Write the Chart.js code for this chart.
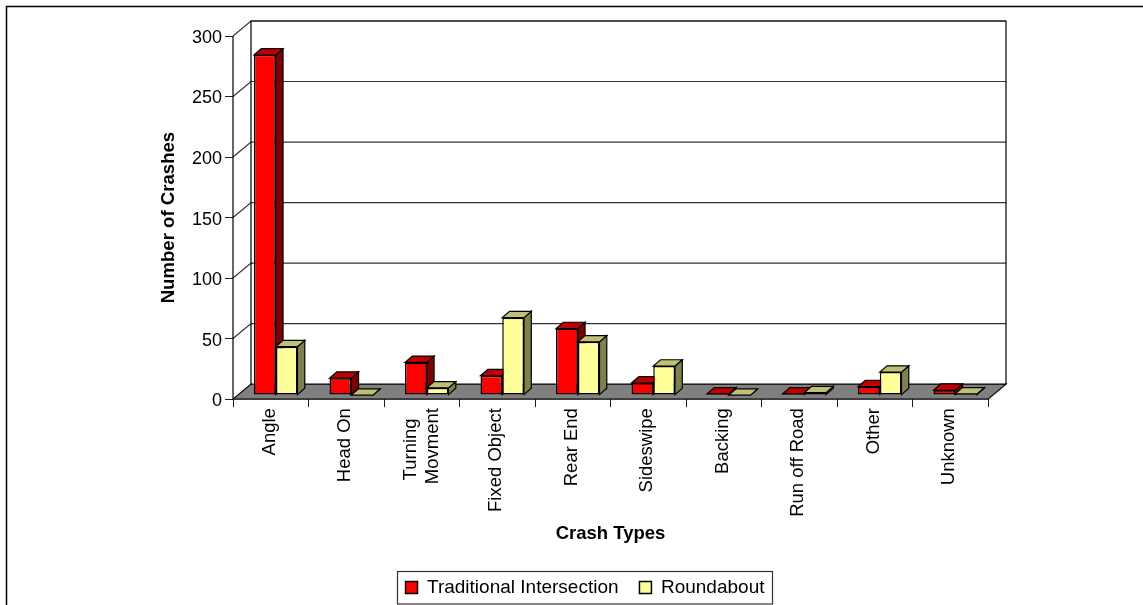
<!DOCTYPE html>
<html>
<head>
<meta charset="utf-8">
<title>Crash Types</title>
<script src="https://cdn.jsdelivr.net/npm/chart.js@4"></script>
<style>
  html, body { margin: 0; padding: 0; background: #fff; }
  canvas { display: block; }
</style>
</head>
<body>
<canvas id="container" width="1143" height="605"></canvas>
<script>
let categories = ['Angle', 'Head On', ['Turning  ', 'Movment'], 'Fixed Object', 'Rear End', 'Sideswipe', 'Backing', 'Run off Road', 'Other', 'Unknown'];
let traditional = [281, 14, 27, 16, 55, 10, 1, 1, 7, 4];
let roundabout = [40, 0, 6, 64, 44, 24, 0, 2, 19, 1];
let yTicks = [0, 50, 100, 150, 200, 250, 300];

let fontName = '"Liberation Sans", Arial, sans-serif';
let wallDepth = { x: 18, y: -15 };
let barDepth = { x: 7.3, y: -6.3 };
let barShift = { x: 5, y: -4 };
let shades = [
  { front: '#ff0000', top: '#c00000', side: '#7f0000' },
  { front: '#ffff99', top: '#c0c073', side: '#80804d' }
];

function poly(ctx, pts, fill) {
  ctx.beginPath();
  pts.forEach((p, i) => i ? ctx.lineTo(p[0], p[1]) : ctx.moveTo(p[0], p[1]));
  ctx.closePath();
  if (fill) { ctx.fillStyle = fill; ctx.fill(); }
  ctx.stroke();
}

let box3d = {
  id: 'box3d',
  afterLayout(chart) {
    // legend is centred under the whole picture, not under the plot
    chart.legend.left += 78;
    chart.legend.right += 78;
    chart.legend.top += 3;
    chart.legend.bottom += 3;
    // two line labels have to sit centred on their tick
    chart.scales.x.getLabelItems().forEach(item => {
      if (Array.isArray(item.label)) item.options.translation[0] -= 10;
    });
    // numbers sit a bit high against their tick marks
    chart.scales.y.getLabelItems().forEach(item => {
      item.options.translation[1] += 2;
    });
  },
  beforeDraw(chart) {
    // outer frame of the original picture, only top and left show
    let ctx = chart.ctx;
    ctx.save();
    ctx.strokeStyle = '#000';
    ctx.lineWidth = 1.5;
    ctx.beginPath();
    ctx.moveTo(6.5, 605);
    ctx.lineTo(6.5, 6.5);
    ctx.lineTo(1143, 6.5);
    ctx.stroke();
    ctx.restore();
  },
  beforeDatasetsDraw(chart) {
    let ctx = chart.ctx;
    let a = chart.chartArea;
    let yScale = chart.scales.y;
    let dx = wallDepth.x, dy = wallDepth.y;
    let y0 = yScale.getPixelForValue(0), yMax = yScale.getPixelForValue(yTicks[yTicks.length - 1]);

    ctx.save();
    ctx.lineWidth = 1.2;

    // gridlines on the back wall and the slanted bit on the left wall
    ctx.strokeStyle = '#333';
    yTicks.forEach(v => {
      if (v == 0) return;
      let y = yScale.getPixelForValue(v);
      ctx.beginPath();
      ctx.moveTo(a.left, y);
      ctx.lineTo(a.left + dx, y + dy);
      ctx.lineTo(a.right + dx, y + dy);
      ctx.stroke();
    });

    // walls
    ctx.strokeStyle = '#000';
    ctx.beginPath();
    ctx.moveTo(a.left + dx, y0 + dy);
    ctx.lineTo(a.left + dx, yMax + dy);
    ctx.lineTo(a.right + dx, yMax + dy);
    ctx.lineTo(a.right + dx, y0 + dy);
    ctx.stroke();
    ctx.beginPath();
    ctx.moveTo(a.left, y0);
    ctx.lineTo(a.left, yMax);
    ctx.stroke();

    // floor
    poly(ctx, [[a.left, y0], [a.right, y0], [a.right + dx, y0 + dy], [a.left + dx, y0 + dy]], '#808080');

    // bars sit in the middle of the floor depth
    ctx.translate(barShift.x, barShift.y);
    let bx = barDepth.x, by = barDepth.y;
    chart.data.datasets.forEach((ds, d) => {
      chart.getDatasetMeta(d).data.forEach(bar => {
        let p = bar.getProps(['x', 'y', 'base', 'width'], true);
        let l = p.x - p.width / 2, r = p.x + p.width / 2;
        poly(ctx, [[r, p.base], [r + bx, p.base + by], [r + bx, p.y + by], [r, p.y]], shades[d].side);
        poly(ctx, [[l, p.y], [r, p.y], [r + bx, p.y + by], [l + bx, p.y + by]], shades[d].top);
      });
    });
  },
  afterDatasetsDraw(chart) {
    chart.ctx.restore();
  },
  afterDraw(chart) {
    // box round the legend
    let ctx = chart.ctx;
    ctx.save();
    ctx.strokeStyle = '#333';
    ctx.lineWidth = 1.2;
    ctx.strokeRect(397.5, 571.5, 375, 32.5);
    ctx.restore();
  }
};

let ctx = document.getElementById('container').getContext('2d');

let myChart = new Chart(ctx, {
  type: 'bar',
  data: {
    labels: categories,
    datasets: [
      { label: 'Traditional Intersection', data: traditional, backgroundColor: shades[0].front },
      { label: 'Roundabout', data: roundabout, backgroundColor: shades[1].front }
    ]
  },
  options: {
    responsive: false,
    animation: false,
    layout: { padding: { left: 26, right: 155, top: 36, bottom: 1 } },
    datasets: {
      bar: {
        categoryPercentage: 0.576,
        barPercentage: 1,
        borderColor: '#000',
        borderWidth: 1.5,
        borderSkipped: false,
        clip: false
      }
    },
    scales: {
      x: {
        afterFit(scale) { scale.height = 170.8; },
        grid: { drawOnChartArea: false, tickLength: 8, color: '#222' },
        border: { display: false },
        ticks: {
          autoSkip: false,
          minRotation: 90,
          maxRotation: 90,
          padding: 1,
          labelOffset: -1,
          color: '#000',
          font: { family: fontName, size: 18.5 }
        },
        title: {
          display: true,
          text: 'Crash Types',
          color: '#000',
          padding: { top: 0, bottom: 25 },
          font: { family: fontName, size: 18.5, weight: 'bold' }
        }
      },
      y: {
        min: 0,
        max: 300,
        afterFit(scale) { scale.width = 207; },
        afterBuildTicks(scale) { scale.ticks = yTicks.map(v => ({ value: v })); },
        grid: { drawOnChartArea: false, tickLength: 8, color: '#222' },
        border: { display: false },
        ticks: {
          padding: 3,
          color: '#000',
          font: { family: fontName, size: 18 }
        },
        title: {
          display: true,
          text: 'Number of Crashes',
          color: '#000',
          padding: { top: 132, bottom: 0 },
          font: { family: fontName, size: 18.6, weight: 'bold' }
        }
      }
    },
    plugins: {
      tooltip: { enabled: false },
      legend: {
        position: 'bottom',
        labels: {
          color: '#000',
          boxWidth: 12,
          boxHeight: 12,
          padding: 5.1,
          font: { family: fontName, size: 19 },
          generateLabels(chart) {
            let items = Chart.defaults.plugins.legend.labels.generateLabels(chart);
            items[0].text += '   ';
            return items;
          }
        }
      }
    }
  },
  plugins: [box3d]
});
</script>
</body>
</html>
